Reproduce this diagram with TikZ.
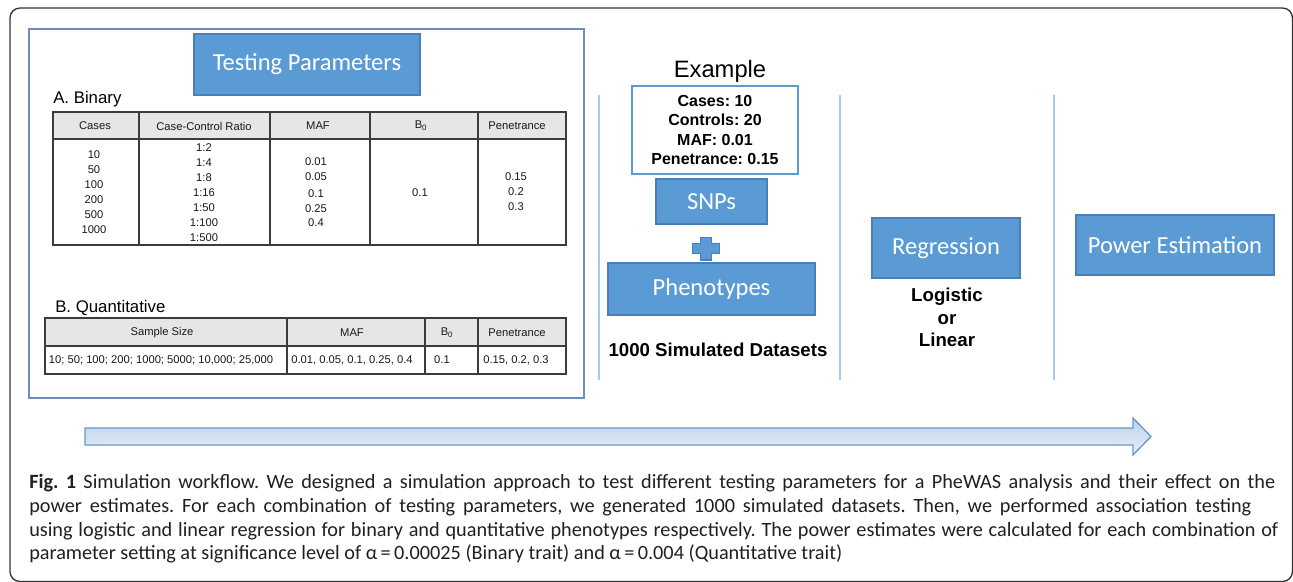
\documentclass[tikz,border=0pt]{standalone}
\usepackage{fontspec}
\setmainfont{Liberation Sans}
\newfontfamily\calib{Carlito}
\frenchspacing
\definecolor{boxblue}{HTML}{5B9BD5}
\definecolor{boxedge}{HTML}{4A7EB6}
\definecolor{paneledge}{HTML}{6B8FBC}
\definecolor{lightline}{HTML}{A7CAEB}
\definecolor{headgray}{HTML}{E6E6E6}
\definecolor{tabline}{HTML}{3C3C3C}
\definecolor{arrowedge}{HTML}{6C96C6}
\definecolor{arrowtop}{HTML}{B9D2EC}
\definecolor{arrowbot}{HTML}{E8F0F9}
\definecolor{captext}{HTML}{231F20}
\tikzset{
  bluebox/.style={draw=boxedge, fill=boxblue, line width=1.1pt, text=white,
    font=\calib\fontsize{18.4}{21}\selectfont, inner sep=0pt, anchor=center},
  tabline/.style={draw=tabline, line width=1pt},
  tabtxt/.style={font=\fontsize{8.4}{10}\selectfont, inner sep=0pt, text=black!90},
  seclabel/.style={font=\fontsize{12.6}{15}\selectfont, inner sep=0pt, anchor=west},
  boldlbl/.style={font=\bfseries\fontsize{14}{16.9}\selectfont, inner sep=0pt, align=center},
  sepline/.style={draw=lightline, line width=1.1pt},
  captxt/.style={font=\calib\fontsize{15.2}{18}\selectfont, inner sep=0pt, anchor=base west, text=captext}
}
\begin{document}
\begin{tikzpicture}[x=0.75pt,y=-0.75pt]
\useasboundingbox (0,0) rectangle (1293,582);
\fill[white] (0,0) rectangle (1293,582);
% outer frame
\draw[black!80, line width=1pt, rounded corners=7.5pt] (10,8) rectangle (1292.5,581.5);
% left panel
\draw[paneledge, line width=1.2pt] (29,29) rectangle (584,398);
\node[bluebox, minimum width=169.5pt, minimum height=45.75pt] (tp) at (307,64.5) {Testing Parameters};
\node[seclabel] (binlbl) at (53,99) {A. Binary};
\node[seclabel] (quantlbl) at (55,308) {B. Quantitative};

% table A
\fill[headgray] (53,112) rectangle (566,139);
\draw[tabline] (53,112) rectangle (566,245);
\draw[tabline] (53,139) -- (566,139);
\foreach \x in {139,270,370,478} \draw[tabline] (\x,112) -- (\x,245);
\node[tabtxt] (ha1) at (95,126) {Cases};
\node[tabtxt] (ha2) at (204,126) {Case-Control Ratio};
\node[tabtxt] (ha3) at (318,126) {MAF};
\node[tabtxt] (ha4) at (421,126) {B\textsubscript{0}};
\node[tabtxt] (ha5) at (517,126) {Penetrance};
\foreach \v/\y [count=\i] in {10/155,50/170,100/185,200/200,500/215,1000/230}
  \node[tabtxt] (ca\i) at (94,\y) {\v};
\foreach \v/\y [count=\i] in {1:2/148,1:4/163,1:8/178,1:16/193,1:50/208,1:100/223,1:500/238}
  \node[tabtxt] (cr\i) at (204,\y) {\v};
\foreach \v/\y [count=\i] in {0.01/162,0.05/177,0.1/194,0.25/209,0.4/223}
  \node[tabtxt] (cm\i) at (316,\y) {\v};
\node[tabtxt] (cb1) at (420,193) {0.1};
\foreach \v/\y [count=\i] in {0.15/177,0.2/192,0.3/207}
  \node[tabtxt] (cp\i) at (516,\y) {\v};

% table B
\fill[headgray] (45,318) rectangle (566,346);
\draw[tabline] (45,318) rectangle (566,374);
\draw[tabline] (45,346) -- (566,346);
\foreach \x in {287,425,478} \draw[tabline] (\x,318) -- (\x,374);
\node[tabtxt] (hb1) at (162,333) {Sample Size};
\node[tabtxt] (hb2) at (352,333) {MAF};
\node[tabtxt] (hb3) at (447,333) {B\textsubscript{0}};
\node[tabtxt] (hb4) at (517,333) {Penetrance};
\node[tabtxt] (qb1) at (161,360) {10; 50; 100; 200; 1000; 5000; 10,000; 25,000};
\node[tabtxt] (qb2) at (352,360) {0.01, 0.05, 0.1, 0.25, 0.4};
\node[tabtxt] (qb3) at (442,360) {0.1};
\node[tabtxt] (qb4) at (516,360) {0.15, 0.2, 0.3};

% separators
\draw[sepline] (599,95) -- (599,380);
\draw[sepline] (840,95) -- (840,380);
\draw[sepline] (1054,95) -- (1054,380);

% example column
\node[font=\fontsize{17.8}{20}\selectfont, inner sep=0pt] (exlbl) at (720,71) {Example};
\node[draw=boxblue, line width=0.9pt, fill=white, minimum width=124.5pt, minimum height=66pt,
  inner sep=0pt, align=center, font=\bfseries\fontsize{12}{14.3}\selectfont] (exbox) at (715,130)
  {Cases: 10\\Controls: 20\\MAF: 0.01\\Penetrance: 0.15};
\node[bluebox, minimum width=83.25pt, minimum height=33.75pt] (snps) at (711.5,201.5) {SNPs};
\draw[draw=boxedge, fill=boxblue, line width=0.8pt]
  (700.5,237.5) -- (711.5,237.5) -- (711.5,243.5) -- (719.5,243.5) -- (719.5,253.5)
  -- (711.5,253.5) -- (711.5,260) -- (700.5,260) -- (700.5,253.5) -- (692.5,253.5)
  -- (692.5,243.5) -- (700.5,243.5) -- cycle;
\node[bluebox, minimum width=155.25pt, minimum height=39pt] (pheno) at (711.5,289) {Phenotypes};
\node[boldlbl] (simds) at (718,350) {1000 Simulated Datasets};

% regression column
\node[bluebox, minimum width=111pt, minimum height=45pt] (reg) at (946,248) {Regression};
\node[boldlbl] (loglin) at (947,317.5) {Logistic\\or\\Linear};

% power estimation
\node[bluebox, minimum width=148.5pt, minimum height=45pt] (pow) at (1175,245) {Power Estimation};

% big arrow
\shade[top color=arrowtop, bottom color=arrowbot, draw=arrowedge, line width=1pt]
  (85,428) -- (1133,428) -- (1133,418) -- (1151,436.5) -- (1133,455) -- (1133,445) -- (85,445) -- cycle;

% caption
\node[captxt] (cap1) at (29,488) {\makebox[934.5pt][s]{\textbf{Fig. 1} Simulation workflow. We designed a simulation approach to test different testing parameters for a PheWAS analysis and their effect on the}};
\node[captxt] (cap2) at (29,512) {\makebox[916.5pt][s]{power estimates. For each combination of testing parameters, we generated 1000 simulated datasets. Then, we performed association testing}};
\node[captxt] (cap3) at (29,536) {\makebox[936.75pt][s]{using logistic and linear regression for binary and quantitative phenotypes respectively. The power estimates were calculated for each combination of}};
\node[captxt] (cap4) at (29,559) {parameter setting at significance level of α\,=\,0.00025 (Binary trait) and α\,=\,0.004 (Quantitative trait)};
\end{tikzpicture}
\end{document}
